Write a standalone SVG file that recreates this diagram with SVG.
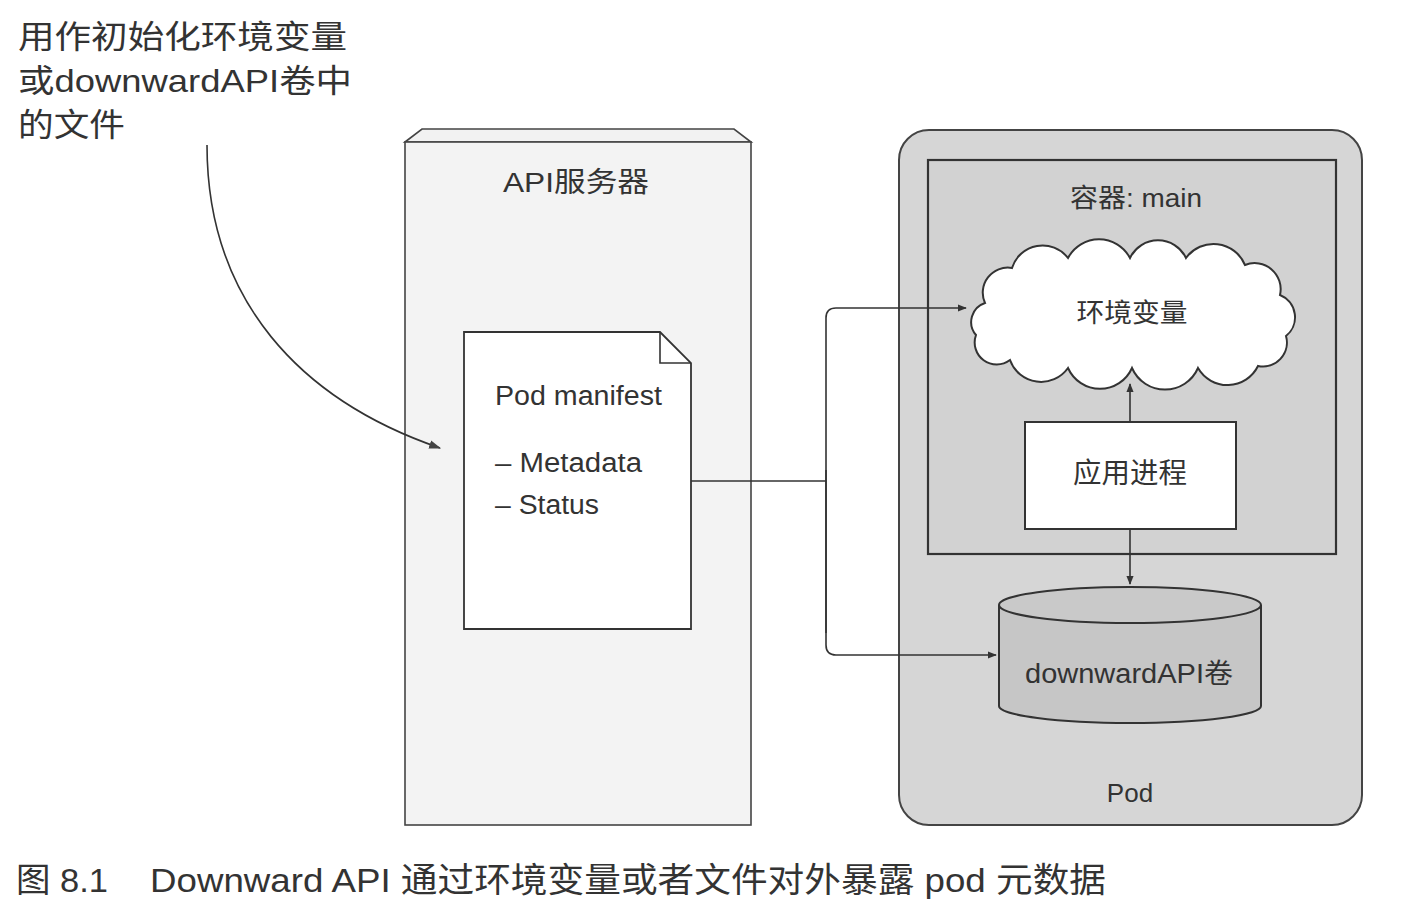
<svg xmlns="http://www.w3.org/2000/svg" width="1404" height="916" viewBox="0 0 1404 916">
  <style>
    .t { font-family: "Liberation Sans", "Noto Sans CJK SC", sans-serif; fill: #333; }
    .line { fill: none; stroke: #333; stroke-width: 1.6; }
  </style>
  <defs>
    <marker id="arr" viewBox="0 0 10 10" refX="9" refY="5" markerWidth="9" markerHeight="9" markerUnits="userSpaceOnUse" orient="auto">
      <path d="M0,1 L10,5 L0,9 Z" fill="#333"/>
    </marker>
    <marker id="arr2" viewBox="0 0 10 10" refX="9" refY="5" markerWidth="12" markerHeight="12" markerUnits="userSpaceOnUse" orient="auto">
      <path d="M0,1.5 L10,5 L0,8.5 Z" fill="#444"/>
    </marker>
  </defs>
  <rect width="1404" height="916" fill="#fff"/>

  <g id="note">
    <text class="t" x="18" y="48" font-size="32" textLength="329" lengthAdjust="spacingAndGlyphs">用作初始化环境变量</text>
    <text class="t" x="18" y="92" font-size="32" textLength="334" lengthAdjust="spacingAndGlyphs">或downwardAPI卷中</text>
    <text class="t" x="18" y="136" font-size="32" textLength="107" lengthAdjust="spacingAndGlyphs">的文件</text>
  </g>

  <g id="api-server">
    <path d="M405,142 L422,129 L734,129 L751,142 Z" fill="#f2f2f2" stroke="#444" stroke-width="1.6"/>
    <rect x="405" y="142" width="346" height="683" fill="#f3f3f3" stroke="#444" stroke-width="1.6"/>
    <text class="t" x="576" y="192" font-size="28" text-anchor="middle" textLength="146" lengthAdjust="spacingAndGlyphs">API服务器</text>
  </g>

  <g id="pod-manifest">
    <path d="M464,332 L660,332 L691,363 L691,629 L464,629 Z" fill="#fff" stroke="#333" stroke-width="1.8"/>
    <path d="M660,332 L660,363 L691,363" fill="none" stroke="#333" stroke-width="1.6"/>
    <text class="t" x="495" y="405" font-size="27" textLength="167" lengthAdjust="spacingAndGlyphs">Pod manifest</text>
    <text class="t" x="495" y="472" font-size="27" textLength="147" lengthAdjust="spacingAndGlyphs">– Metadata</text>
    <text class="t" x="495" y="514" font-size="27" textLength="104" lengthAdjust="spacingAndGlyphs">– Status</text>
  </g>

  <g id="pod">
    <rect x="899" y="130" width="463" height="695" rx="30" ry="30" fill="#d6d6d6" stroke="#444" stroke-width="2"/>
    <text class="t" x="1130" y="802" font-size="26" text-anchor="middle">Pod</text>
  </g>

  <g id="container-main">
    <rect x="928" y="160" width="408" height="394" fill="#d2d2d2" stroke="#333" stroke-width="2.2"/>
    <text class="t" x="1136" y="207" font-size="26" text-anchor="middle" textLength="132" lengthAdjust="spacingAndGlyphs">容器: main</text>
  </g>

  <g id="env-vars">
    <path d="M985,303 A25,25 0 0 1 1012,268 A32,32 0 0 1 1068,258 A35,35 0 0 1 1130,258 A31,31 0 0 1 1186,258 A34,34 0 0 1 1245,265 A26,26 0 0 1 1280,295 A24,24 0 0 1 1286,336 A24,24 0 0 1 1258,366 A34,34 0 0 1 1198,368 A36,36 0 0 1 1132,368 A35,35 0 0 1 1068,368 A33,33 0 0 1 1010,360 A22,22 0 0 1 976,335 A20,20 0 0 1 985,303 Z" fill="#fff" stroke="#333" stroke-width="2"/>
    <text class="t" x="1132" y="322" font-size="26" text-anchor="middle" textLength="111" lengthAdjust="spacingAndGlyphs">环境变量</text>
  </g>

  <g id="app-process">
    <rect x="1025" y="422" width="211" height="107" fill="#fff" stroke="#333" stroke-width="2"/>
    <text class="t" x="1130" y="483" font-size="28" text-anchor="middle" textLength="114" lengthAdjust="spacingAndGlyphs">应用进程</text>
  </g>

  <g id="downward-volume">
    <path d="M999,605 V706 A131,17 0 0 0 1261,706 V605" fill="#c6c6c6" stroke="#333" stroke-width="2"/>
    <ellipse cx="1130" cy="605" rx="131" ry="18" fill="#c9c9c9" stroke="#333" stroke-width="2"/>
    <text class="t" x="1129" y="683" font-size="27" text-anchor="middle" textLength="208" lengthAdjust="spacingAndGlyphs">downwardAPI卷</text>
  </g>

  <g id="connectors">
    <path class="line" d="M207,145 C207,300 300,400 440,448" stroke="#555" stroke-width="1.3" marker-end="url(#arr2)"/>
    <path class="line" d="M691,481 H826"/>
    <path class="line" d="M826,633 V318 Q826,308 836,308 H966" marker-end="url(#arr)"/>
    <path class="line" d="M826,470 V645 Q826,655 836,655 H996" marker-end="url(#arr)"/>
    <path class="line" d="M1130,422 V384" marker-end="url(#arr)"/>
    <path class="line" d="M1130,529 V584" marker-end="url(#arr)"/>
  </g>

  <g id="caption">
    <text class="t" x="16" y="892" font-size="34" textLength="92" lengthAdjust="spacingAndGlyphs">图 8.1</text>
    <text class="t" x="150" y="892" font-size="34" textLength="956" lengthAdjust="spacingAndGlyphs">Downward API 通过环境变量或者文件对外暴露 pod 元数据</text>
  </g>
</svg>
